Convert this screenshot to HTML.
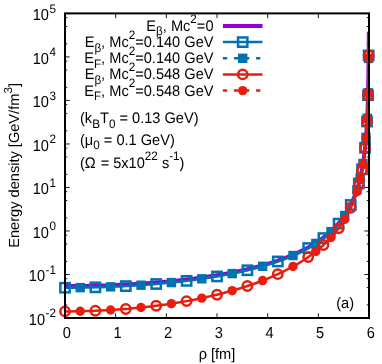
<!DOCTYPE html>
<html><head><meta charset="utf-8"><title>plot</title><style>html,body{margin:0;padding:0;background:#fff;overflow:hidden}svg{display:block;will-change:transform}svg text{text-rendering:geometricPrecision;font-family:"Liberation Sans",sans-serif;font-size:14.6px}svg tspan.s,svg text.s{font-size:11.68px}</style></head><body>
<svg width="382" height="364" viewBox="0 0 382 364" fill="#000">
<rect width="382" height="364" fill="#fff"/>
<defs><clipPath id="pc"><rect x="65.0" y="13.4" width="304.0" height="304.6"/></clipPath></defs>
<g id="ticks">
<line x1="65.00" y1="318.0" x2="65.00" y2="313.3" stroke="#000" stroke-width="0.9"/><line x1="65.00" y1="13.4" x2="65.00" y2="18.1" stroke="#000" stroke-width="0.9"/>
<text xml:space="preserve" transform="translate(66.80,337.80) scale(1,1.09)" text-anchor="middle"><tspan dy="0.00">0</tspan></text>
<line x1="115.67" y1="318.0" x2="115.67" y2="313.3" stroke="#000" stroke-width="0.9"/><line x1="115.67" y1="13.4" x2="115.67" y2="18.1" stroke="#000" stroke-width="0.9"/>
<text xml:space="preserve" transform="translate(117.47,337.80) scale(1,1.09)" text-anchor="middle"><tspan dy="0.00">1</tspan></text>
<line x1="166.33" y1="318.0" x2="166.33" y2="313.3" stroke="#000" stroke-width="0.9"/><line x1="166.33" y1="13.4" x2="166.33" y2="18.1" stroke="#000" stroke-width="0.9"/>
<text xml:space="preserve" transform="translate(168.13,337.80) scale(1,1.09)" text-anchor="middle"><tspan dy="0.00">2</tspan></text>
<line x1="217.00" y1="318.0" x2="217.00" y2="313.3" stroke="#000" stroke-width="0.9"/><line x1="217.00" y1="13.4" x2="217.00" y2="18.1" stroke="#000" stroke-width="0.9"/>
<text xml:space="preserve" transform="translate(218.80,337.80) scale(1,1.09)" text-anchor="middle"><tspan dy="0.00">3</tspan></text>
<line x1="267.67" y1="318.0" x2="267.67" y2="313.3" stroke="#000" stroke-width="0.9"/><line x1="267.67" y1="13.4" x2="267.67" y2="18.1" stroke="#000" stroke-width="0.9"/>
<text xml:space="preserve" transform="translate(269.47,337.80) scale(1,1.09)" text-anchor="middle"><tspan dy="0.00">4</tspan></text>
<line x1="318.33" y1="318.0" x2="318.33" y2="313.3" stroke="#000" stroke-width="0.9"/><line x1="318.33" y1="13.4" x2="318.33" y2="18.1" stroke="#000" stroke-width="0.9"/>
<text xml:space="preserve" transform="translate(320.13,337.80) scale(1,1.09)" text-anchor="middle"><tspan dy="0.00">5</tspan></text>
<line x1="369.00" y1="318.0" x2="369.00" y2="313.3" stroke="#000" stroke-width="0.9"/><line x1="369.00" y1="13.4" x2="369.00" y2="18.1" stroke="#000" stroke-width="0.9"/>
<text xml:space="preserve" transform="translate(370.80,337.80) scale(1,1.09)" text-anchor="middle"><tspan dy="0.00">6</tspan></text>
<line x1="65.0" y1="318.00" x2="69.7" y2="318.00" stroke="#000" stroke-width="0.9"/><line x1="369.0" y1="318.00" x2="364.3" y2="318.00" stroke="#000" stroke-width="0.9"/>
<text xml:space="preserve" transform="translate(45.01,324.60) scale(1,1.09)" text-anchor="end"><tspan dy="0.00">10</tspan></text><text xml:space="preserve" class="s" transform="translate(45.51,317.10) scale(1,1.045)" text-anchor="start"><tspan dy="0.00">-2</tspan></text>
<line x1="65.0" y1="304.90" x2="67.3" y2="304.90" stroke="#000" stroke-width="0.9"/><line x1="369.0" y1="304.90" x2="366.7" y2="304.90" stroke="#000" stroke-width="0.9"/>
<line x1="65.0" y1="287.58" x2="67.3" y2="287.58" stroke="#000" stroke-width="0.9"/><line x1="369.0" y1="287.58" x2="366.7" y2="287.58" stroke="#000" stroke-width="0.9"/>
<line x1="65.0" y1="278.70" x2="67.3" y2="278.70" stroke="#000" stroke-width="0.9"/><line x1="369.0" y1="278.70" x2="366.7" y2="278.70" stroke="#000" stroke-width="0.9"/>
<line x1="65.0" y1="274.49" x2="69.7" y2="274.49" stroke="#000" stroke-width="0.9"/><line x1="369.0" y1="274.49" x2="364.3" y2="274.49" stroke="#000" stroke-width="0.9"/>
<text xml:space="preserve" transform="translate(45.01,281.09) scale(1,1.09)" text-anchor="end"><tspan dy="0.00">10</tspan></text><text xml:space="preserve" class="s" transform="translate(45.51,273.59) scale(1,1.045)" text-anchor="start"><tspan dy="0.00">-1</tspan></text>
<line x1="65.0" y1="261.39" x2="67.3" y2="261.39" stroke="#000" stroke-width="0.9"/><line x1="369.0" y1="261.39" x2="366.7" y2="261.39" stroke="#000" stroke-width="0.9"/>
<line x1="65.0" y1="244.07" x2="67.3" y2="244.07" stroke="#000" stroke-width="0.9"/><line x1="369.0" y1="244.07" x2="366.7" y2="244.07" stroke="#000" stroke-width="0.9"/>
<line x1="65.0" y1="235.19" x2="67.3" y2="235.19" stroke="#000" stroke-width="0.9"/><line x1="369.0" y1="235.19" x2="366.7" y2="235.19" stroke="#000" stroke-width="0.9"/>
<line x1="65.0" y1="230.97" x2="69.7" y2="230.97" stroke="#000" stroke-width="0.9"/><line x1="369.0" y1="230.97" x2="364.3" y2="230.97" stroke="#000" stroke-width="0.9"/>
<text xml:space="preserve" transform="translate(48.90,237.57) scale(1,1.09)" text-anchor="end"><tspan dy="0.00">10</tspan></text><text xml:space="preserve" class="s" transform="translate(49.40,230.07) scale(1,1.045)" text-anchor="start"><tspan dy="0.00">0</tspan></text>
<line x1="65.0" y1="217.87" x2="67.3" y2="217.87" stroke="#000" stroke-width="0.9"/><line x1="369.0" y1="217.87" x2="366.7" y2="217.87" stroke="#000" stroke-width="0.9"/>
<line x1="65.0" y1="200.56" x2="67.3" y2="200.56" stroke="#000" stroke-width="0.9"/><line x1="369.0" y1="200.56" x2="366.7" y2="200.56" stroke="#000" stroke-width="0.9"/>
<line x1="65.0" y1="191.67" x2="67.3" y2="191.67" stroke="#000" stroke-width="0.9"/><line x1="369.0" y1="191.67" x2="366.7" y2="191.67" stroke="#000" stroke-width="0.9"/>
<line x1="65.0" y1="187.46" x2="69.7" y2="187.46" stroke="#000" stroke-width="0.9"/><line x1="369.0" y1="187.46" x2="364.3" y2="187.46" stroke="#000" stroke-width="0.9"/>
<text xml:space="preserve" transform="translate(48.90,194.06) scale(1,1.09)" text-anchor="end"><tspan dy="0.00">10</tspan></text><text xml:space="preserve" class="s" transform="translate(49.40,186.56) scale(1,1.045)" text-anchor="start"><tspan dy="0.00">1</tspan></text>
<line x1="65.0" y1="174.36" x2="67.3" y2="174.36" stroke="#000" stroke-width="0.9"/><line x1="369.0" y1="174.36" x2="366.7" y2="174.36" stroke="#000" stroke-width="0.9"/>
<line x1="65.0" y1="157.04" x2="67.3" y2="157.04" stroke="#000" stroke-width="0.9"/><line x1="369.0" y1="157.04" x2="366.7" y2="157.04" stroke="#000" stroke-width="0.9"/>
<line x1="65.0" y1="148.16" x2="67.3" y2="148.16" stroke="#000" stroke-width="0.9"/><line x1="369.0" y1="148.16" x2="366.7" y2="148.16" stroke="#000" stroke-width="0.9"/>
<line x1="65.0" y1="143.94" x2="69.7" y2="143.94" stroke="#000" stroke-width="0.9"/><line x1="369.0" y1="143.94" x2="364.3" y2="143.94" stroke="#000" stroke-width="0.9"/>
<text xml:space="preserve" transform="translate(48.90,150.54) scale(1,1.09)" text-anchor="end"><tspan dy="0.00">10</tspan></text><text xml:space="preserve" class="s" transform="translate(49.40,143.04) scale(1,1.045)" text-anchor="start"><tspan dy="0.00">2</tspan></text>
<line x1="65.0" y1="130.84" x2="67.3" y2="130.84" stroke="#000" stroke-width="0.9"/><line x1="369.0" y1="130.84" x2="366.7" y2="130.84" stroke="#000" stroke-width="0.9"/>
<line x1="65.0" y1="113.53" x2="67.3" y2="113.53" stroke="#000" stroke-width="0.9"/><line x1="369.0" y1="113.53" x2="366.7" y2="113.53" stroke="#000" stroke-width="0.9"/>
<line x1="65.0" y1="104.65" x2="67.3" y2="104.65" stroke="#000" stroke-width="0.9"/><line x1="369.0" y1="104.65" x2="366.7" y2="104.65" stroke="#000" stroke-width="0.9"/>
<line x1="65.0" y1="100.43" x2="69.7" y2="100.43" stroke="#000" stroke-width="0.9"/><line x1="369.0" y1="100.43" x2="364.3" y2="100.43" stroke="#000" stroke-width="0.9"/>
<text xml:space="preserve" transform="translate(48.90,107.03) scale(1,1.09)" text-anchor="end"><tspan dy="0.00">10</tspan></text><text xml:space="preserve" class="s" transform="translate(49.40,99.53) scale(1,1.045)" text-anchor="start"><tspan dy="0.00">3</tspan></text>
<line x1="65.0" y1="87.33" x2="67.3" y2="87.33" stroke="#000" stroke-width="0.9"/><line x1="369.0" y1="87.33" x2="366.7" y2="87.33" stroke="#000" stroke-width="0.9"/>
<line x1="65.0" y1="70.01" x2="67.3" y2="70.01" stroke="#000" stroke-width="0.9"/><line x1="369.0" y1="70.01" x2="366.7" y2="70.01" stroke="#000" stroke-width="0.9"/>
<line x1="65.0" y1="61.13" x2="67.3" y2="61.13" stroke="#000" stroke-width="0.9"/><line x1="369.0" y1="61.13" x2="366.7" y2="61.13" stroke="#000" stroke-width="0.9"/>
<line x1="65.0" y1="56.91" x2="69.7" y2="56.91" stroke="#000" stroke-width="0.9"/><line x1="369.0" y1="56.91" x2="364.3" y2="56.91" stroke="#000" stroke-width="0.9"/>
<text xml:space="preserve" transform="translate(48.90,63.51) scale(1,1.09)" text-anchor="end"><tspan dy="0.00">10</tspan></text><text xml:space="preserve" class="s" transform="translate(49.40,56.01) scale(1,1.045)" text-anchor="start"><tspan dy="0.00">4</tspan></text>
<line x1="65.0" y1="43.82" x2="67.3" y2="43.82" stroke="#000" stroke-width="0.9"/><line x1="369.0" y1="43.82" x2="366.7" y2="43.82" stroke="#000" stroke-width="0.9"/>
<line x1="65.0" y1="26.50" x2="67.3" y2="26.50" stroke="#000" stroke-width="0.9"/><line x1="369.0" y1="26.50" x2="366.7" y2="26.50" stroke="#000" stroke-width="0.9"/>
<line x1="65.0" y1="17.62" x2="67.3" y2="17.62" stroke="#000" stroke-width="0.9"/><line x1="369.0" y1="17.62" x2="366.7" y2="17.62" stroke="#000" stroke-width="0.9"/>
<line x1="65.0" y1="13.40" x2="69.7" y2="13.40" stroke="#000" stroke-width="0.9"/><line x1="369.0" y1="13.40" x2="364.3" y2="13.40" stroke="#000" stroke-width="0.9"/>
<text xml:space="preserve" transform="translate(48.90,20.00) scale(1,1.09)" text-anchor="end"><tspan dy="0.00">10</tspan></text><text xml:space="preserve" class="s" transform="translate(49.40,12.50) scale(1,1.045)" text-anchor="start"><tspan dy="0.00">5</tspan></text>
</g>
<g id="curves">
<path clip-path="url(#pc)" d="M65.00,286.09 L70.07,286.07 L75.13,286.04 L80.20,285.99 L85.27,285.92 L90.33,285.82 L95.40,285.71 L100.47,285.57 L105.53,285.41 L110.60,285.23 L115.67,285.02 L120.73,284.79 L125.80,284.54 L130.87,284.27 L135.93,283.97 L141.00,283.65 L146.07,283.30 L151.13,282.92 L156.20,282.52 L161.27,282.09 L166.33,281.63 L171.40,281.15 L176.47,280.63 L181.53,280.08 L186.60,279.50 L191.67,278.88 L196.73,278.22 L201.80,277.53 L206.87,276.80 L211.93,276.03 L217.00,275.21 L222.07,274.35 L227.13,273.44 L232.20,272.47 L237.27,271.45 L242.33,270.36 L247.40,269.22 L252.47,268.00 L257.53,266.71 L262.60,265.33 L267.67,263.87 L272.73,262.31 L277.80,260.64 L282.87,258.84 L287.93,256.92 L293.00,254.84 L298.07,252.59 L303.13,250.14 L308.20,247.47 L313.27,244.53 L318.33,241.27 L323.40,237.63 L328.47,233.52 L333.53,228.81 L338.60,223.32 L339.61,222.10 L340.12,221.48 L340.63,220.84 L341.13,220.19 L341.64,219.53 L342.15,218.86 L342.65,218.17 L343.16,217.47 L343.67,216.76 L344.17,216.02 L344.68,215.28 L345.19,214.52 L345.69,213.74 L346.20,212.94 L346.71,212.12 L347.21,211.28 L347.72,210.43 L348.23,209.55 L348.73,208.65 L349.24,207.72 L349.75,206.78 L350.25,205.80 L350.76,204.80 L351.27,203.76 L351.77,202.70 L352.28,201.61 L352.79,200.47 L353.29,199.31 L353.80,198.10 L354.31,196.85 L354.81,195.56 L355.32,194.21 L355.83,192.82 L356.33,191.37 L356.84,189.86 L357.35,188.28 L357.85,186.63 L358.36,184.91 L358.87,183.10 L359.37,181.19 L359.88,179.18 L360.39,177.05 L360.89,174.79 L361.40,172.38 L361.91,169.81 L362.41,167.04 L362.92,164.04 L363.43,160.79 L363.93,157.22 L364.19,155.29 L364.31,154.29 L364.44,153.27 L364.57,152.21 L364.69,151.12 L364.82,150.00 L364.95,148.85 L365.07,147.65 L365.20,146.42 L365.33,145.15 L365.45,143.83 L365.58,142.46 L365.71,141.05 L365.83,139.57 L365.96,138.04 L366.09,136.44 L366.21,134.76 L366.34,133.01 L366.47,131.18 L366.59,129.25 L366.72,127.21 L366.85,125.06 L366.97,122.78 L367.10,120.34 L367.23,117.74 L367.35,114.95 L367.48,111.93 L367.61,108.65 L367.73,105.06 L367.86,101.08 L367.99,96.64 L368.11,91.60 L368.24,85.78 L368.37,78.90 L368.49,70.47 L368.52,68.54 L368.54,66.53 L368.57,64.41 L368.59,62.16 L368.62,59.78 L368.64,57.23 L368.67,54.49 L368.69,51.54 L368.72,48.35 L368.74,44.85 L368.77,41.00 L368.79,36.72 L368.82,31.88" fill="none" stroke="#9400d3" stroke-width="4" stroke-linejoin="round"/>
<path clip-path="url(#pc)" d="M65.00,287.73 L70.07,287.72 L75.13,287.69 L80.20,287.63 L85.27,287.56 L90.33,287.46 L95.40,287.34 L100.47,287.19 L105.53,287.03 L110.60,286.83 L115.67,286.62 L120.73,286.38 L125.80,286.12 L130.87,285.84 L135.93,285.52 L141.00,285.19 L146.07,284.82 L151.13,284.43 L156.20,284.01 L161.27,283.57 L166.33,283.09 L171.40,282.58 L176.47,282.05 L181.53,281.47 L186.60,280.87 L191.67,280.23 L196.73,279.55 L201.80,278.83 L206.87,278.08 L211.93,277.28 L217.00,276.43 L222.07,275.54 L227.13,274.60 L232.20,273.60 L237.27,272.55 L242.33,271.43 L247.40,270.25 L252.47,269.00 L257.53,267.67 L262.60,266.26 L267.67,264.76 L272.73,263.16 L277.80,261.45 L282.87,259.62 L287.93,257.65 L293.00,255.53 L298.07,253.24 L303.13,250.76 L308.20,248.04 L313.27,245.05 L318.33,241.75 L323.40,238.07 L328.47,233.91 L333.53,229.15 L338.60,223.61 L339.61,222.38 L340.12,221.76 L340.63,221.12 L341.13,220.46 L341.64,219.80 L342.15,219.12 L342.65,218.43 L343.16,217.72 L343.67,217.00 L344.17,216.27 L344.68,215.51 L345.19,214.75 L345.69,213.96 L346.20,213.16 L346.71,212.34 L347.21,211.50 L347.72,210.63 L348.23,209.75 L348.73,208.85 L349.24,207.92 L349.75,206.96 L350.25,205.98 L350.76,204.97 L351.27,203.94 L351.77,202.87 L352.28,201.77 L352.79,200.63 L353.29,199.46 L353.80,198.25 L354.31,196.99 L354.81,195.70 L355.32,194.35 L355.83,192.95 L356.33,191.49 L356.84,189.98 L357.35,188.40 L357.85,186.74 L358.36,185.01 L358.87,183.20 L359.37,181.28 L359.88,179.27 L360.39,177.13 L360.89,174.87 L361.40,172.46 L361.91,169.88 L362.41,167.10 L362.92,164.10 L363.43,160.84 L363.93,157.27 L364.19,155.34 L364.31,154.34 L364.44,153.31 L364.57,152.25 L364.69,151.16 L364.82,150.04 L364.95,148.89 L365.07,147.69 L365.20,146.46 L365.33,145.19 L365.45,143.87 L365.58,142.50 L365.71,141.08 L365.83,139.60 L365.96,138.07 L366.09,136.46 L366.21,134.79 L366.34,133.04 L366.47,131.20 L366.59,129.27 L366.72,127.23 L366.85,125.08 L366.97,122.80 L367.10,120.36 L367.23,117.76 L367.35,114.97 L367.48,111.95 L367.61,108.67 L367.73,105.07 L367.86,101.10 L367.99,96.65 L368.11,91.61 L368.24,85.79 L368.37,78.91 L368.49,70.48 L368.52,68.54 L368.54,66.53 L368.57,64.41 L368.59,62.17 L368.62,59.78 L368.64,57.23 L368.67,54.50 L368.69,51.55 L368.72,48.35 L368.74,44.86 L368.77,41.01 L368.79,36.72 L368.82,31.88" fill="none" stroke="#0072b2" stroke-width="2.5" stroke-linejoin="round"/>
<rect x="60.35" y="283.08" width="9.3" height="9.3" fill="none" stroke="#0072b2" stroke-width="2.5"/>
<rect x="90.75" y="282.69" width="9.3" height="9.3" fill="none" stroke="#0072b2" stroke-width="2.5"/>
<rect x="121.15" y="281.47" width="9.3" height="9.3" fill="none" stroke="#0072b2" stroke-width="2.5"/>
<rect x="151.55" y="279.36" width="9.3" height="9.3" fill="none" stroke="#0072b2" stroke-width="2.5"/>
<rect x="181.95" y="276.22" width="9.3" height="9.3" fill="none" stroke="#0072b2" stroke-width="2.5"/>
<rect x="212.35" y="271.78" width="9.3" height="9.3" fill="none" stroke="#0072b2" stroke-width="2.5"/>
<rect x="242.75" y="265.60" width="9.3" height="9.3" fill="none" stroke="#0072b2" stroke-width="2.5"/>
<rect x="273.15" y="256.80" width="9.3" height="9.3" fill="none" stroke="#0072b2" stroke-width="2.5"/>
<rect x="303.55" y="243.39" width="9.3" height="9.3" fill="none" stroke="#0072b2" stroke-width="2.5"/>
<rect x="318.75" y="233.42" width="9.3" height="9.3" fill="none" stroke="#0072b2" stroke-width="2.5"/>
<rect x="333.95" y="218.96" width="9.3" height="9.3" fill="none" stroke="#0072b2" stroke-width="2.5"/>
<rect x="346.11" y="200.32" width="9.3" height="9.3" fill="none" stroke="#0072b2" stroke-width="2.5"/>
<rect x="354.15" y="178.78" width="9.3" height="9.3" fill="none" stroke="#0072b2" stroke-width="2.5"/>
<rect x="357.36" y="164.69" width="9.3" height="9.3" fill="none" stroke="#0072b2" stroke-width="2.5"/>
<rect x="360.42" y="143.07" width="9.3" height="9.3" fill="none" stroke="#0072b2" stroke-width="2.5"/>
<rect x="362.39" y="116.87" width="9.3" height="9.3" fill="none" stroke="#0072b2" stroke-width="2.5"/>
<rect x="363.38" y="90.51" width="9.3" height="9.3" fill="none" stroke="#0072b2" stroke-width="2.5"/>
<rect x="364.01" y="50.80" width="9.3" height="9.3" fill="none" stroke="#0072b2" stroke-width="2.5"/>
<rect x="75.50" y="282.93" width="9.4" height="9.4" fill="#0072b2"/>
<rect x="105.90" y="282.13" width="9.4" height="9.4" fill="#0072b2"/>
<rect x="136.30" y="280.49" width="9.4" height="9.4" fill="#0072b2"/>
<rect x="166.70" y="277.88" width="9.4" height="9.4" fill="#0072b2"/>
<rect x="197.10" y="274.13" width="9.4" height="9.4" fill="#0072b2"/>
<rect x="227.50" y="268.90" width="9.4" height="9.4" fill="#0072b2"/>
<rect x="257.90" y="261.56" width="9.4" height="9.4" fill="#0072b2"/>
<rect x="288.30" y="250.83" width="9.4" height="9.4" fill="#0072b2"/>
<rect x="311.10" y="238.75" width="9.4" height="9.4" fill="#0072b2"/>
<rect x="326.30" y="226.91" width="9.4" height="9.4" fill="#0072b2"/>
<rect x="339.98" y="210.81" width="9.4" height="9.4" fill="#0072b2"/>
<rect x="352.19" y="185.13" width="9.4" height="9.4" fill="#0072b2"/>
<rect x="355.45" y="173.45" width="9.4" height="9.4" fill="#0072b2"/>
<rect x="358.32" y="158.80" width="9.4" height="9.4" fill="#0072b2"/>
<rect x="361.32" y="132.66" width="9.4" height="9.4" fill="#0072b2"/>
<rect x="362.50" y="113.54" width="9.4" height="9.4" fill="#0072b2"/>
<rect x="363.39" y="87.97" width="9.4" height="9.4" fill="#0072b2"/>
<rect x="363.93" y="53.75" width="9.4" height="9.4" fill="#0072b2"/>
<path clip-path="url(#pc)" d="M65.00,311.39 L70.07,311.38 L75.13,311.33 L80.20,311.24 L85.27,311.12 L90.33,310.97 L95.40,310.79 L100.47,310.57 L105.53,310.31 L110.60,310.02 L115.67,309.70 L120.73,309.34 L125.80,308.94 L130.87,308.51 L135.93,308.04 L141.00,307.53 L146.07,306.98 L151.13,306.39 L156.20,305.77 L161.27,305.10 L166.33,304.39 L171.40,303.64 L176.47,302.84 L181.53,302.00 L186.60,301.11 L191.67,300.17 L196.73,299.19 L201.80,298.15 L206.87,297.05 L211.93,295.90 L217.00,294.69 L222.07,293.42 L227.13,292.08 L232.20,290.68 L237.27,289.20 L242.33,287.65 L247.40,286.01 L252.47,284.29 L257.53,282.48 L262.60,280.57 L267.67,278.55 L272.73,276.42 L277.80,274.16 L282.87,271.77 L287.93,269.22 L293.00,266.50 L298.07,263.59 L303.13,260.46 L308.20,257.09 L313.27,253.43 L318.33,249.44 L323.40,245.04 L328.47,240.15 L333.53,234.65 L338.60,228.35 L339.61,226.97 L340.12,226.26 L340.63,225.54 L341.13,224.81 L341.64,224.07 L342.15,223.31 L342.65,222.54 L343.16,221.76 L343.67,220.96 L344.17,220.14 L344.68,219.31 L345.19,218.47 L345.69,217.60 L346.20,216.72 L346.71,215.82 L347.21,214.90 L347.72,213.96 L348.23,213.00 L348.73,212.01 L349.24,211.00 L349.75,209.97 L350.25,208.91 L350.76,207.82 L351.27,206.70 L351.77,205.55 L352.28,204.37 L352.79,203.16 L353.29,201.90 L353.80,200.61 L354.31,199.28 L354.81,197.90 L355.32,196.47 L355.83,194.99 L356.33,193.45 L356.84,191.86 L357.35,190.20 L357.85,188.46 L358.36,186.65 L358.87,184.75 L359.37,182.76 L359.88,180.66 L360.39,178.45 L360.89,176.11 L361.40,173.61 L361.91,170.95 L362.41,168.10 L362.92,165.02 L363.43,161.68 L363.93,158.03 L364.19,156.06 L364.31,155.04 L364.44,153.99 L364.57,152.91 L364.69,151.81 L364.82,150.66 L364.95,149.49 L365.07,148.28 L365.20,147.02 L365.33,145.73 L365.45,144.39 L365.58,143.00 L365.71,141.56 L365.83,140.07 L365.96,138.51 L366.09,136.89 L366.21,135.20 L366.34,133.43 L366.47,131.57 L366.59,129.62 L366.72,127.57 L366.85,125.39 L366.97,123.09 L367.10,120.64 L367.23,118.02 L367.35,115.21 L367.48,112.17 L367.61,108.87 L367.73,105.25 L367.86,101.26 L367.99,96.80 L368.11,91.74 L368.24,85.90 L368.37,79.00 L368.49,70.55 L368.52,68.61 L368.54,66.60 L368.57,64.47 L368.59,62.23 L368.62,59.83 L368.64,57.28 L368.67,54.54 L368.69,51.59 L368.72,48.39 L368.74,44.89 L368.77,41.04 L368.79,36.75 L368.82,31.91" fill="none" stroke="#e51e10" stroke-width="2.5" stroke-linejoin="round"/>
<circle cx="65.00" cy="311.39" r="4.7" fill="none" stroke="#e51e10" stroke-width="2.5"/>
<circle cx="95.40" cy="310.79" r="4.7" fill="none" stroke="#e51e10" stroke-width="2.5"/>
<circle cx="125.80" cy="308.94" r="4.7" fill="none" stroke="#e51e10" stroke-width="2.5"/>
<circle cx="156.20" cy="305.77" r="4.7" fill="none" stroke="#e51e10" stroke-width="2.5"/>
<circle cx="186.60" cy="301.11" r="4.7" fill="none" stroke="#e51e10" stroke-width="2.5"/>
<circle cx="217.00" cy="294.69" r="4.7" fill="none" stroke="#e51e10" stroke-width="2.5"/>
<circle cx="247.40" cy="286.01" r="4.7" fill="none" stroke="#e51e10" stroke-width="2.5"/>
<circle cx="277.80" cy="274.16" r="4.7" fill="none" stroke="#e51e10" stroke-width="2.5"/>
<circle cx="308.20" cy="257.09" r="4.7" fill="none" stroke="#e51e10" stroke-width="2.5"/>
<circle cx="323.40" cy="245.04" r="4.7" fill="none" stroke="#e51e10" stroke-width="2.5"/>
<circle cx="338.60" cy="228.35" r="4.7" fill="none" stroke="#e51e10" stroke-width="2.5"/>
<circle cx="350.76" cy="207.82" r="4.7" fill="none" stroke="#e51e10" stroke-width="2.5"/>
<circle cx="358.80" cy="185.00" r="4.7" fill="none" stroke="#e51e10" stroke-width="2.5"/>
<circle cx="362.01" cy="170.40" r="4.7" fill="none" stroke="#e51e10" stroke-width="2.5"/>
<circle cx="365.07" cy="148.30" r="4.7" fill="none" stroke="#e51e10" stroke-width="2.5"/>
<circle cx="367.04" cy="121.80" r="4.7" fill="none" stroke="#e51e10" stroke-width="2.5"/>
<circle cx="368.03" cy="95.30" r="4.7" fill="none" stroke="#e51e10" stroke-width="2.5"/>
<circle cx="368.66" cy="55.50" r="4.7" fill="none" stroke="#e51e10" stroke-width="2.5"/>
<circle cx="80.20" cy="311.24" r="4.7" fill="#e51e10"/>
<circle cx="110.60" cy="310.02" r="4.7" fill="#e51e10"/>
<circle cx="141.00" cy="307.53" r="4.7" fill="#e51e10"/>
<circle cx="171.40" cy="303.64" r="4.7" fill="#e51e10"/>
<circle cx="201.80" cy="298.15" r="4.7" fill="#e51e10"/>
<circle cx="232.20" cy="290.68" r="4.7" fill="#e51e10"/>
<circle cx="262.60" cy="280.57" r="4.7" fill="#e51e10"/>
<circle cx="293.00" cy="266.50" r="4.7" fill="#e51e10"/>
<circle cx="315.80" cy="251.48" r="4.7" fill="#e51e10"/>
<circle cx="331.00" cy="237.49" r="4.7" fill="#e51e10"/>
<circle cx="344.68" cy="219.31" r="4.7" fill="#e51e10"/>
<circle cx="356.89" cy="191.70" r="4.7" fill="#e51e10"/>
<circle cx="360.15" cy="179.50" r="4.7" fill="#e51e10"/>
<circle cx="363.02" cy="164.40" r="4.7" fill="#e51e10"/>
<circle cx="366.02" cy="137.80" r="4.7" fill="#e51e10"/>
<circle cx="367.20" cy="118.50" r="4.7" fill="#e51e10"/>
<circle cx="368.09" cy="92.80" r="4.7" fill="#e51e10"/>
<circle cx="368.63" cy="58.50" r="4.7" fill="#e51e10"/>
</g>
<g id="legend">
<line x1="222.9" y1="25.9" x2="262.5" y2="25.9" stroke="#9400d3" stroke-width="4"/>
<line x1="222.9" y1="42.1" x2="262.5" y2="42.1" stroke="#0072b2" stroke-width="2.5"/><rect x="238.05" y="37.45" width="9.3" height="9.3" fill="none" stroke="#0072b2" stroke-width="2.5"/>
<line x1="222.9" y1="58.3" x2="262.5" y2="58.3" stroke="#0072b2" stroke-width="2.5" stroke-dasharray="4.3 6.75"/><rect x="238.00" y="53.60" width="9.4" height="9.4" fill="#0072b2"/>
<line x1="222.9" y1="74.4" x2="262.5" y2="74.4" stroke="#e51e10" stroke-width="2.5"/><circle cx="242.70" cy="74.40" r="4.7" fill="none" stroke="#e51e10" stroke-width="2.5"/>
<line x1="222.9" y1="90.6" x2="262.5" y2="90.6" stroke="#e51e10" stroke-width="2.5" stroke-dasharray="4.3 6.75"/><circle cx="242.70" cy="90.60" r="4.7" fill="#e51e10"/>
<text xml:space="preserve" transform="translate(213.50,30.80) scale(1,1.045)" text-anchor="end"><tspan dy="0.00">E</tspan><tspan dy="4.30" class="s">β</tspan><tspan dy="-4.30">, Mc</tspan><tspan dy="-7.70" class="s">2</tspan><tspan dy="7.70">=0</tspan></text>
<text xml:space="preserve" transform="translate(213.50,47.00) scale(1,1.045)" text-anchor="end"><tspan dy="0.00">E</tspan><tspan dy="4.30" class="s">β</tspan><tspan dy="-4.30">, Mc</tspan><tspan dy="-7.70" class="s">2</tspan><tspan dy="7.70">=0.140 GeV</tspan></text>
<text xml:space="preserve" transform="translate(213.50,63.20) scale(1,1.045)" text-anchor="end"><tspan dy="0.00">E</tspan><tspan dy="4.30" class="s">F</tspan><tspan dy="-4.30">, Mc</tspan><tspan dy="-7.70" class="s">2</tspan><tspan dy="7.70">=0.140 GeV</tspan></text>
<text xml:space="preserve" transform="translate(213.50,79.30) scale(1,1.045)" text-anchor="end"><tspan dy="0.00">E</tspan><tspan dy="4.30" class="s">β</tspan><tspan dy="-4.30">, Mc</tspan><tspan dy="-7.70" class="s">2</tspan><tspan dy="7.70">=0.548 GeV</tspan></text>
<text xml:space="preserve" transform="translate(213.50,95.50) scale(1,1.045)" text-anchor="end"><tspan dy="0.00">E</tspan><tspan dy="4.30" class="s">F</tspan><tspan dy="-4.30">, Mc</tspan><tspan dy="-7.70" class="s">2</tspan><tspan dy="7.70">=0.548 GeV</tspan></text>
</g>
<text xml:space="preserve" transform="translate(80.00,123.30) scale(1,1.045)" text-anchor="start"><tspan dy="0.00">(k</tspan><tspan dy="4.30" class="s">B</tspan><tspan dy="-4.30">T</tspan><tspan dy="4.30" class="s">0</tspan><tspan dy="-4.30"> = 0.13 GeV)</tspan></text>
<text xml:space="preserve" transform="translate(80.00,144.70) scale(1,1.045)" text-anchor="start"><tspan dy="0.00">(μ</tspan><tspan dy="4.30" class="s">0</tspan><tspan dy="-4.30"> = 0.1 GeV)</tspan></text>
<text xml:space="preserve" transform="translate(80.00,168.00) scale(1,1.045)" text-anchor="start"><tspan dy="0.00">(Ω</tspan><tspan dx="0.8" dy="0.00"> = 5x10</tspan><tspan dy="-7.70" class="s">22</tspan><tspan dy="7.70"> s</tspan><tspan dy="-7.70" class="s">-1</tspan><tspan dy="7.70">)</tspan></text>
<text xml:space="preserve" transform="translate(336.20,307.90) scale(1,1.045)" text-anchor="start"><tspan dy="0.00">(a)</tspan></text>
<rect x="65.0" y="13.4" width="304.0" height="304.6" fill="none" stroke="#000" stroke-width="2"/>
<text xml:space="preserve" transform="translate(217.00,358.80) scale(1,1.045)" text-anchor="middle"><tspan dy="0.00">ρ [fm]</tspan></text>
<text xml:space="preserve" transform="translate(19.30,165.40) rotate(-90) scale(1,1.0)" text-anchor="middle"><tspan dy="0.00">Energy density [GeV/fm</tspan><tspan dy="-7.70" class="s">3</tspan><tspan dy="7.70">]</tspan></text>
</svg>
</body></html>
